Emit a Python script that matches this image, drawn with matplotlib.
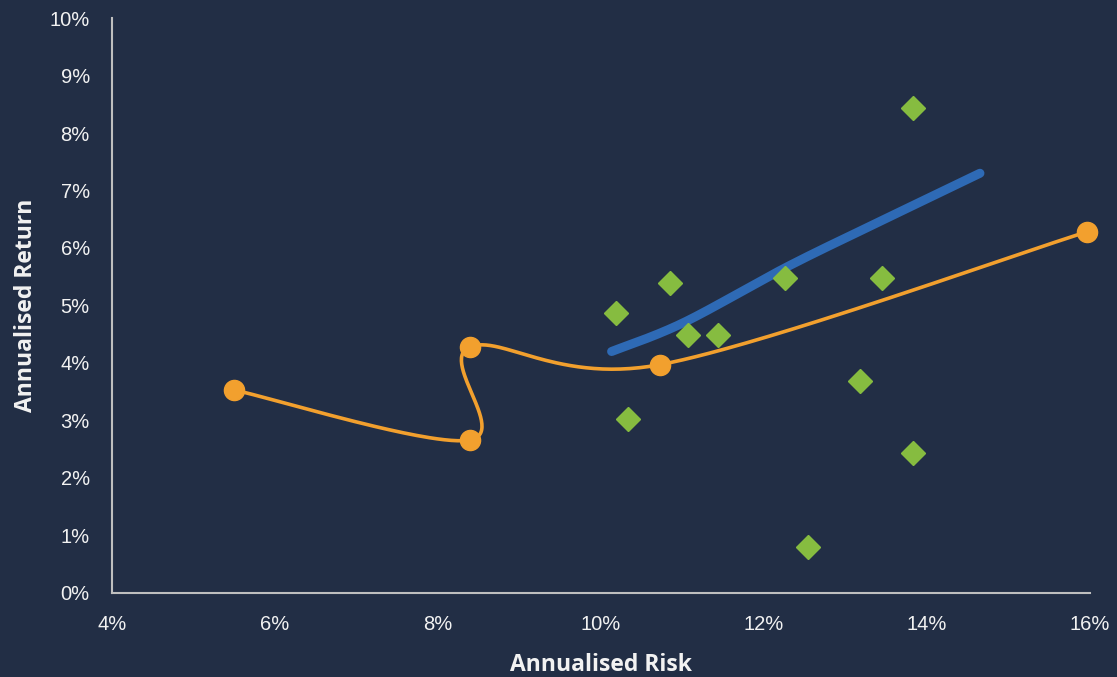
import matplotlib.pyplot as plt
import numpy as np
from matplotlib.ticker import FuncFormatter

# portfolio points joined in order (risk %, return %)
port_risk = [5.50, 8.39, 8.39, 10.72, 15.96]
port_ret = [3.53, 2.66, 4.28, 3.97, 6.28]

# efficient frontier
front_risk = [10.13, 11.01, 12.28, 13.42, 14.65]
front_ret = [4.20, 4.70, 5.67, 6.46, 7.30]

# individual assets
asset_risk = [10.18, 10.85, 10.33, 11.07, 11.44, 12.26, 12.54, 13.18, 13.45, 13.83, 13.83]
asset_ret = [4.87, 5.39, 3.03, 4.49, 4.49, 5.48, 0.80, 3.69, 5.48, 8.43, 2.43]

bg = "#222E45"
orange = "#F2A02E"
blue = "#2E6AB5"
green = "#86BC40"
text_col = "#F2F2F2"


def smooth(ax, xs, ys, n=60):
    # Bezier smoothing with Catmull-Rom style control points, done in display space
    pts = ax.transData.transform(np.column_stack([xs, ys]))
    p = np.vstack([pts[0], pts, pts[-1]])
    out = []
    for i in range(1, len(p) - 2):
        p0, p1, p2, p3 = p[i - 1], p[i], p[i + 1], p[i + 2]
        c1 = p1 + (p2 - p0) / 6
        c2 = p2 - (p3 - p1) / 6
        t = np.linspace(0, 1, n)[:, None]
        seg = ((1 - t) ** 3) * p1 + 3 * ((1 - t) ** 2) * t * c1 + 3 * (1 - t) * t ** 2 * c2 + t ** 3 * p2
        out.append(seg)
    curve = ax.transData.inverted().transform(np.vstack(out))
    return curve[:, 0], curve[:, 1]


fig = plt.figure(figsize=(11.17, 6.77), dpi=100, facecolor=bg)
ax = fig.add_axes([0.1003, 0.1241, 0.8755, 0.8493], facecolor=bg)
ax.set_xlim(4, 16)
ax.set_ylim(0, 10)

fx, fy = smooth(ax, front_risk, front_ret)
ax.plot(fx, fy, color=blue, lw=6.5, solid_capstyle="round", zorder=2)

px, py = smooth(ax, port_risk, port_ret)
ax.plot(px, py, color=orange, lw=2.6, zorder=3, clip_on=False)
ax.plot(port_risk, port_ret, "o", color=orange, ms=14.5, zorder=4, clip_on=False)

ax.plot(asset_risk, asset_ret, "D", color=green, ms=12, ls="none", zorder=5)

ax.set_xticks(np.arange(4, 17, 2))
ax.set_yticks(np.arange(0, 11, 1))
pct = FuncFormatter(lambda v, _: f"{v:.0f}%")
ax.xaxis.set_major_formatter(pct)
ax.yaxis.set_major_formatter(pct)
ax.tick_params(length=0, colors=text_col, labelsize=14.5)
ax.tick_params(axis="x", pad=16)
ax.tick_params(axis="y", pad=16)
for lab in ax.get_xticklabels() + ax.get_yticklabels():
    lab.set_fontfamily("Liberation Sans")

for side in ["top", "right"]:
    ax.spines[side].set_visible(False)
for side in ["left", "bottom"]:
    ax.spines[side].set_color("#BFBFBF")
    ax.spines[side].set_linewidth(1.5)

ax.set_xlabel("Annualised Risk", fontsize=16.5, fontweight="bold", family="Open Sans", color=text_col)
ax.set_ylabel("Annualised Return", fontsize=16.5, fontweight="bold", family="Open Sans", color=text_col)
ax.xaxis.set_label_coords(0.5, -0.104)
ax.yaxis.set_label_coords(-0.076, 0.5)

fig.savefig("out.png", dpi=100, facecolor=bg)
